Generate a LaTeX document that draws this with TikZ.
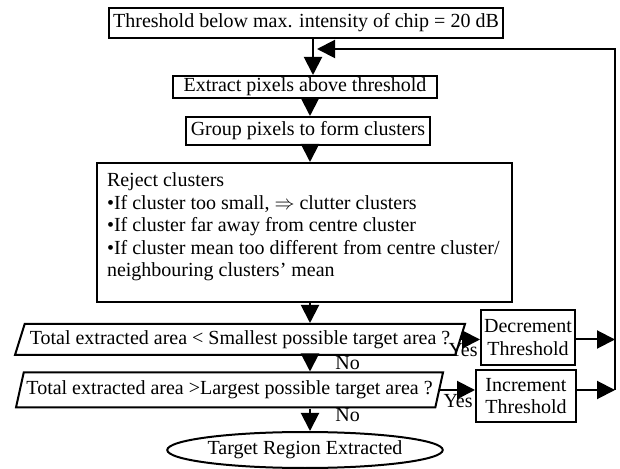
\documentclass[tikz,border=0pt]{standalone}
\usepackage{fontspec}
\setmainfont{Liberation Serif}
\usetikzlibrary{shapes.geometric,arrows.meta}
\begin{document}
\begin{tikzpicture}[x=0.5pt,y=-0.5pt,font=\fontsize{10}{11.25}\selectfont,
	box/.style={draw,line width=1pt,inner sep=0pt,align=center},
	para/.style={draw,line width=1pt,trapezium,trapezium stretches body,inner sep=0pt},
	arr/.style={line width=1pt,-{Triangle[length=9pt,width=9pt]}}]
	\useasboundingbox (0,0) rectangle (620,469);
	\coordinate (fb) at (313,49);
	\coordinate (rt) at (615,49);
	\coordinate (col) at (310,0);
	\node[box,minimum width=197pt,minimum height=15pt] (thr) at (306,23) {Threshold below max. intensity of chip = 20 dB};
	\node[box,minimum width=132pt,minimum height=11pt] (ext) at (305,87) {Extract pixels above threshold};
	\node[box,minimum width=122pt,minimum height=14pt] (grp) at (308,131) {Group pixels to form clusters};
	\node[box,inner xsep=5pt,inner ysep=4pt] (rej) at (304.5,232.5) {\parbox[c][61.5pt][t]{197.5pt}{\vspace*{1pt}Reject clusters\\
		\textbullet If cluster too small, $\Rightarrow$ clutter clusters\\
		\textbullet If cluster far away from centre cluster\\
		\textbullet If cluster mean too different from centre cluster/\\
		neighbouring clusters’ mean}};
	\node[para,trapezium left angle=62,trapezium right angle=118,minimum width=225pt,minimum height=15.5pt] (sm) at (240,339.5) {Total extracted area < Smallest possible target area ?};
	\node[para,trapezium left angle=67,trapezium right angle=113,minimum width=213.5pt,minimum height=17.5pt] (lg) at (229.5,390) {Total extracted area >Largest possible target area ?};
	\node[box,minimum width=47pt,minimum height=27.5pt] (dec) at (528,337.5) {Decrement\\Threshold};
	\node[box,minimum width=50pt,minimum height=26pt] (inc) at (526,396) {Increment\\Threshold};
	\node[draw,ellipse,line width=1pt,inner sep=0pt,minimum width=125pt,minimum height=18pt] (tgt) at (305,450) {Target Region Extracted};
	\draw[arr] (thr.south -| fb)--(ext.north -| fb);
	\foreach \a/\b in {ext/grp,grp/rej,rej/sm,sm/lg,lg/tgt}{\draw[arr] (\a.south -| col)--(\b.north -| col);}
	\draw[arr] (sm.east)--(sm.east -| dec.west);
	\draw[arr] (lg.east)--(lg.east -| inc.west);
	\draw[arr] (dec.east |- sm.east)--(sm.east -| rt);
	\draw[arr] (inc.east |- lg.east)--(lg.east -| rt);
	\draw[arr] (lg.east -| rt)--(rt)--([xshift=2pt]fb);
	\path (sm.east -| dec.west) node[anchor=north east,inner sep=1pt,yshift=-1pt] (yes1) {Yes};
	\path (lg.east -| inc.west) node[anchor=north east,inner sep=1pt,yshift=-1pt] (yes2) {Yes};
	\path (sm.south -| col) ++(25,0) node[anchor=north west,inner sep=0pt] (no1) {No};
	\path (lg.south -| col) ++(25,0) node[anchor=north west,inner sep=0pt] (no2) {No};
\end{tikzpicture}
\end{document}
